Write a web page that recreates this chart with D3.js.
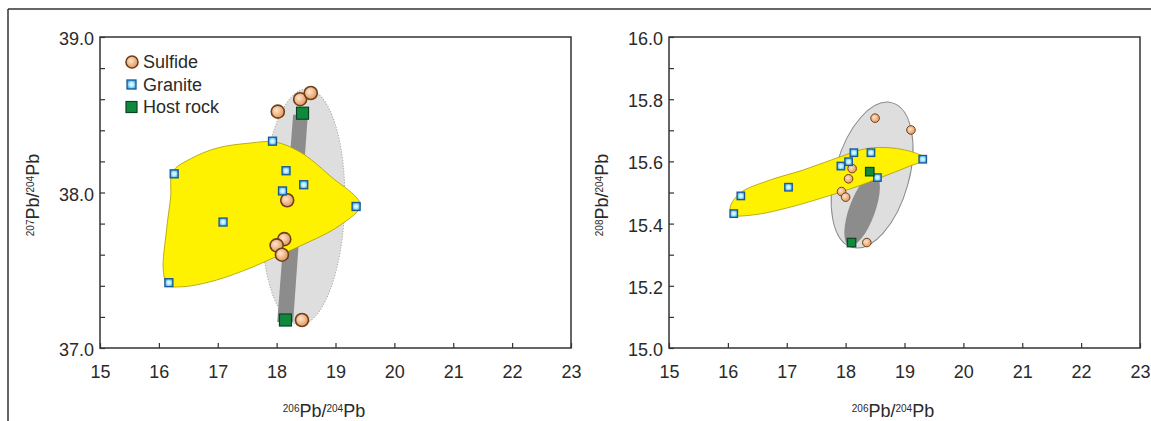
<!DOCTYPE html>
<html lang="en">
<head>
<meta charset="UTF-8">
<title>Pb isotope plots</title>
<script src="https://cdn.jsdelivr.net/npm/d3@7"></script>
<style>
  body { margin: 0; background: #fff; font-family: "Liberation Sans", Arial, sans-serif; }
  svg text { fill: #2a2a2a; }
  .tick line { stroke: #333; stroke-width: 1.2; }
  .tick text { font-size: 18px; }
  .domain { display: none; }
</style>
</head>
<body>
<svg id="chart" width="1151" height="421"></svg>
<script>
// ---- tick data ----
const xTicks = [15, 16, 17, 18, 19, 20, 21, 22, 23];
const leftYTicks = [37.0, 37.2, 37.4, 37.6, 37.8, 38.0, 38.2, 38.4, 38.6, 38.8, 39.0];
const leftYLabels = [37.0, 38.0, 39.0];
const rightYTicks = [15.0, 15.1, 15.2, 15.3, 15.4, 15.5, 15.6, 15.7, 15.8, 15.9, 16.0];
const rightYLabels = [15.0, 15.2, 15.4, 15.6, 15.8, 16.0];

// ---- left plot: 206Pb/204Pb vs 207Pb/204Pb (as labelled) ----
const sulfideL = [[18.02, 38.52], [18.40, 38.60], [18.58, 38.64], [18.18, 37.95],
                  [18.13, 37.70], [18.00, 37.66], [18.09, 37.60], [18.43, 37.18]];
const graniteL = [[17.93, 38.33], [18.16, 38.14], [18.46, 38.05], [18.10, 38.01],
                  [19.35, 37.91], [16.26, 38.12], [17.09, 37.81], [16.17, 37.42]];
const hostL = [[18.44, 38.51], [18.15, 37.18]];
const yellowL = [[16.235, 38.134], [16.53, 38.215], [16.99, 38.286], [17.55, 38.318], [17.97, 38.325],
                 [18.40, 38.26], [18.91, 38.106], [19.42, 37.92], [19.08, 37.79], [18.40, 37.656],
                 [17.94, 37.579], [17.55, 37.514], [16.98, 37.437], [16.41, 37.394], [16.15, 37.405],
                 [16.075, 37.50], [16.13, 37.76], [16.20, 37.97]];
const wedgeL = [[18.28, 38.50], [18.53, 38.50], [18.28, 37.167], [18.01, 37.167]];
const ellipseL = { cx: 18.45, cy: 37.907, rx: 0.705, ry: 0.759, angle: 2 };

// ---- right plot: 206Pb/204Pb vs 208Pb/204Pb (as labelled) ----
const sulfideR = [[18.50, 15.739], [19.11, 15.701], [18.11, 15.577], [18.05, 15.544],
                  [17.93, 15.503], [18.00, 15.485], [18.36, 15.339]];
const graniteR = [[18.14, 15.628], [18.43, 15.628], [18.05, 15.599], [17.92, 15.585],
                  [18.54, 15.548], [19.31, 15.607], [17.03, 15.517], [16.22, 15.489], [16.10, 15.432]];
const hostR = [[18.41, 15.567], [18.10, 15.339]];
const yellowR = [[16.036, 15.450], [16.206, 15.498], [16.715, 15.540], [17.276, 15.572], [17.853, 15.611],
                 [18.41, 15.643], [19.00, 15.637], [19.37, 15.608], [19.09, 15.585], [18.58, 15.547],
                 [18.07, 15.511], [17.00, 15.450], [16.43, 15.428], [16.087, 15.428]];
const ellipseR = { cx: 18.45, cy: 15.556, rx: 0.628, ry: 0.241, angle: 15.5 };
const ellipseRdark = { cx: 18.28, cy: 15.444, rx: 0.22, ry: 0.122, angle: 20 };

const legendItems = ["Sulfide", "Granite", "Host rock"];

const svg = d3.select("#chart");
const defs = svg.append("defs");

// marker gradients
const gS = defs.append("radialGradient").attr("id", "gSulf").attr("cx", "40%").attr("cy", "40%");
gS.append("stop").attr("offset", "0%").attr("stop-color", "#fde6cf");
gS.append("stop").attr("offset", "100%").attr("stop-color", "#eaa56f");
const gG = defs.append("radialGradient").attr("id", "gGran");
gG.append("stop").attr("offset", "0%").attr("stop-color", "#e6faff");
gG.append("stop").attr("offset", "45%").attr("stop-color", "#bfeeff");
gG.append("stop").attr("offset", "100%").attr("stop-color", "#3fb0e6");

// outer frame lines
svg.append("line").attr("x1", 8).attr("y1", 9).attr("x2", 1151).attr("y2", 9)
   .attr("stroke", "#333").attr("stroke-width", 1.5);
svg.append("line").attr("x1", 8).attr("y1", 9).attr("x2", 8).attr("y2", 421)
   .attr("stroke", "#333").attr("stroke-width", 1.5);

function drawPanel(opt) {
  const x = d3.scaleLinear().domain([15, 23]).range([opt.left, opt.left + 471]);
  const y = d3.scaleLinear().domain(opt.yDomain).range([348, 37]);
  const g = svg.append("g");

  // light ellipse
  const e = opt.ellipse;
  g.append("ellipse")
   .attr("cx", x(e.cx)).attr("cy", y(e.cy))
   .attr("rx", x(e.cx + e.rx) - x(e.cx)).attr("ry", y(e.cy) - y(e.cy + e.ry))
   .attr("transform", `rotate(${e.angle},${x(e.cx)},${y(e.cy)})`)
   .attr("fill", "#dedede")
   .attr("stroke", opt.dotted ? "#a8a8a8" : "#8a8a8a")
   .attr("stroke-width", 1)
   .attr("stroke-dasharray", opt.dotted ? "1.2,1.6" : null);

  // dark band between host rocks
  if (opt.wedge) {
    g.append("path")
     .attr("d", d3.line().x(d => x(d[0])).y(d => y(d[1]))(opt.wedge) + "Z")
     .attr("fill", "#8c8c8c");
  }
  if (opt.dark) {
    const k = opt.dark;
    g.append("ellipse")
     .attr("cx", x(k.cx)).attr("cy", y(k.cy))
     .attr("rx", x(k.cx + k.rx) - x(k.cx)).attr("ry", y(k.cy) - y(k.cy + k.ry))
     .attr("transform", `rotate(${k.angle},${x(k.cx)},${y(k.cy)})`)
     .attr("fill", "#8c8c8c");
  }

  // yellow field
  g.append("path")
   .attr("d", d3.line().x(d => x(d[0])).y(d => y(d[1]))
     .curve(d3.curveCatmullRomClosed.alpha(0.5))(opt.yellow))
   .attr("fill", "#fff200").attr("stroke", "#a89a00").attr("stroke-width", 0.8);

  // frame
  g.append("rect").attr("x", opt.left).attr("y", 37).attr("width", 471).attr("height", 311)
   .attr("fill", "none").attr("stroke", "#333").attr("stroke-width", 1.5);

  // axes, ticks pointing inward
  g.append("g").attr("transform", "translate(0,348)")
   .call(d3.axisBottom(x).tickValues(xTicks).tickSize(-5).tickPadding(17).tickFormat(d3.format("d")));
  g.append("g").attr("transform", `translate(${opt.left},0)`)
   .call(d3.axisLeft(y).tickValues(opt.yTicks).tickSize(-5).tickPadding(6)
     .tickFormat(d => opt.yLabels.some(v => Math.abs(v - d) < 1e-6) ? d3.format(".1f")(d) : ""))
   .selectAll("text").attr("dy", "0.42em");

  // axis titles
  const xt = g.append("text").attr("x", opt.left + 224).attr("y", 417)
    .attr("text-anchor", "middle").style("font-size", "18px");
  xt.append("tspan").attr("baseline-shift", "super").style("font-size", "10px").text("206");
  xt.append("tspan").text("Pb/");
  xt.append("tspan").attr("baseline-shift", "super").style("font-size", "10px").text("204");
  xt.append("tspan").text("Pb");

  const yt = g.append("text")
    .attr("transform", `translate(${opt.left - 61},195) rotate(-90)`)
    .attr("text-anchor", "middle").style("font-size", "18px");
  yt.append("tspan").attr("baseline-shift", "super").style("font-size", "10px").text(opt.yIso);
  yt.append("tspan").text("Pb/");
  yt.append("tspan").attr("baseline-shift", "super").style("font-size", "10px").text("204");
  yt.append("tspan").text("Pb");

  // markers
  const m = opt.sizes;
  g.selectAll(".sul").data(opt.sulfide).join("circle")
   .attr("cx", d => x(d[0])).attr("cy", d => y(d[1])).attr("r", m.r)
   .attr("fill", "url(#gSulf)").attr("stroke", "#6e3f18").attr("stroke-width", m.sw);
  g.selectAll(".gra").data(opt.granite).join("rect")
   .attr("x", d => x(d[0]) - m.g / 2).attr("y", d => y(d[1]) - m.g / 2)
   .attr("width", m.g).attr("height", m.g)
   .attr("fill", "url(#gGran)").attr("stroke", "#1c5794").attr("stroke-width", 1.3);
  g.selectAll(".hos").data(opt.host).join("rect")
   .attr("x", d => x(d[0]) - m.h / 2).attr("y", d => y(d[1]) - m.h / 2)
   .attr("width", m.h).attr("height", m.h)
   .attr("fill", "#0f8a3c").attr("stroke", "#0b4322").attr("stroke-width", 1.2);
}

drawPanel({
  left: 100, yDomain: [37, 39], yTicks: leftYTicks, yLabels: leftYLabels, yIso: "207",
  ellipse: ellipseL, dotted: true, wedge: wedgeL, yellow: yellowL,
  sulfide: sulfideL, granite: graniteL, host: hostL,
  sizes: { r: 6.5, sw: 1.6, g: 8, h: 12 }
});
drawPanel({
  left: 669, yDomain: [15, 16], yTicks: rightYTicks, yLabels: rightYLabels, yIso: "208",
  ellipse: ellipseR, dotted: false, dark: ellipseRdark, yellow: yellowR,
  sulfide: sulfideR, granite: graniteR, host: hostR,
  sizes: { r: 4.3, sw: 1, g: 7.5, h: 8.5 }
});

// legend (left plot)
const lg = svg.append("g");
const ly = d3.scalePoint().domain(legendItems).range([62, 107]);
lg.append("circle").attr("cx", 132).attr("cy", ly("Sulfide")).attr("r", 6)
  .attr("fill", "url(#gSulf)").attr("stroke", "#6e3f18").attr("stroke-width", 1.6);
lg.append("rect").attr("x", 127).attr("y", ly("Granite") - 4.5).attr("width", 9).attr("height", 9)
  .attr("fill", "url(#gGran)").attr("stroke", "#1c5794").attr("stroke-width", 1.3);
lg.append("rect").attr("x", 126).attr("y", ly("Host rock") - 5.5).attr("width", 11).attr("height", 11)
  .attr("fill", "#0f8a3c").attr("stroke", "#0b4322").attr("stroke-width", 1.2);
lg.selectAll("text").data(legendItems).join("text")
  .attr("x", 143).attr("y", d => ly(d)).attr("dy", "0.36em")
  .style("font-size", "18px").text(d => d);
</script>
</body>
</html>
